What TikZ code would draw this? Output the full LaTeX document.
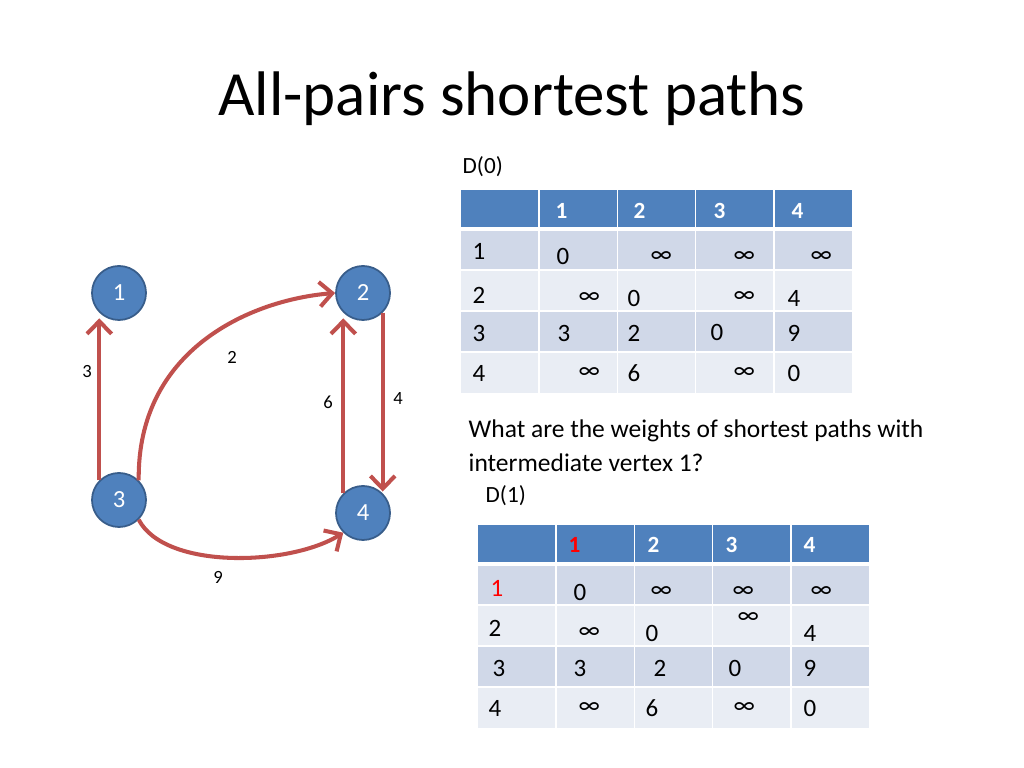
\documentclass[tikz,border=0pt]{standalone}
\usepackage{fontspec}
\setmainfont{Carlito}
\usetikzlibrary{arrows.meta}
\definecolor{vblue}{HTML}{4F81BD}
\definecolor{vborder}{HTML}{385D8A}
\definecolor{ered}{HTML}{C0504D}
\definecolor{hdrblue}{HTML}{4F81BD}
\definecolor{rowdark}{HTML}{D0D8E8}
\definecolor{rowlight}{HTML}{E9EDF4}
\definecolor{hotred}{HTML}{FF0000}
\tikzset{
  vertex/.style={circle, fill=vblue, draw=vborder, line width=0.5pt, minimum size=0.54cm,
    inner sep=0pt, text=white, font=\fontsize{7}{8}\selectfont},
  edge/.style={draw=ered, line width=1.15pt, -{Straight Barb[length=3.6pt,width=7pt]}},
  wlabel/.style={inner sep=0pt, font=\fontsize{5.3}{6}\selectfont},
  cell/.style={anchor=west, inner sep=0pt, font=\fontsize{7.1}{8}\selectfont},
  hcell/.style={cell, text=white, font=\fontsize{6.6}{8}\selectfont\bfseries},
  plain/.style={anchor=base west, inner sep=0pt, font=\fontsize{7.25}{9}\selectfont}
}
% background of one 5x5 table, local coordinates
\newcommand{\dgrid}{
  \fill[hdrblue] (0,0) rectangle (391,39);
  \fill[rowdark] (0,39) rectangle (391,80);
  \fill[rowlight] (0,80) rectangle (391,121);
  \fill[rowdark] (0,121) rectangle (391,162);
  \fill[rowlight] (0,162) rectangle (391,203);
  \draw[white, line width=1.4pt] (0,39) -- (391,39);
  \foreach \y in {80,121,162} \draw[white, line width=0.5pt] (0,\y) -- (391,\y);
  \foreach \x in {78.2,156.4,234.6,312.8} \draw[white, line width=0.5pt] (\x,0) -- (\x,203);
}
\begin{document}
\begin{tikzpicture}[x=0.01cm, y=-0.01cm]
  \useasboundingbox (0,0) rectangle (1024,768);

  % title
  \node[anchor=base, inner sep=0pt, font=\fontsize{17.9}{22}\selectfont] (title) at (512,116) {All-pairs shortest paths};

  % graph
  \node[vertex] (n1) at (119,293) {1};
  \node[vertex] (n2) at (363,293) {2};
  \node[vertex] (n3) at (119,500) {3};
  \node[vertex] (n4) at (363,513) {4};

  \draw[edge, shorten >=1.6pt] (n3.north west) -- (n1.south west);
  \draw[edge] (n3.north east) .. controls (137,350) and (250,300) .. (n2.west);
  \draw[edge, shorten >=1.6pt] (n4.north west) -- (n2.south west);
  \draw[edge, shorten >=0.5pt] (n2.south east) -- (n4.north east);
  \draw[edge] (n3.south east) .. controls (165,570) and (290,566) .. (n4.south west);

  \node[wlabel] (w31) at (87,372) {3};
  \node[wlabel] (w32) at (232,357) {2};
  \node[wlabel] (w42) at (328,402) {6};
  \node[wlabel] (w24) at (398,399) {4};
  \node[wlabel] (w34) at (218,577) {9};

  % D(0)
  \node[anchor=base west, inner sep=0pt, font=\fontsize{6.6}{8}\selectfont] (d0) at (462,174) {D(0)};
  \begin{scope}[shift={(461,190)}]
    \dgrid
    \foreach \x/\t [count=\i] in {94/1,172/2,252/3,330/4}
      \node[hcell] (d0h\i) at (\x,21) {\t};
    \foreach \x/\y/\t [count=\i] in {11/61/1,95/66/0,189/67/∞,272/67/∞,349/67/∞,
        11/105/2,117/108/∞,166/108/0,272/107/∞,326/108/4,
        11/143/3,96/143/3,166/143/2,249/142/0,326/143/9,
        11/183/4,117/183/∞,166/183/6,272/183/∞,326/183/0}
      \node[cell] (d0c\i) at (\x,\y) {\t};
  \end{scope}

  % question
  \node[plain] (q1) at (468,438) {What are the weights of shortest paths with};
  \node[plain] (q2) at (468,472) {intermediate vertex 1?};

  % D(1)
  \node[anchor=base west, inner sep=0pt, font=\fontsize{6.6}{8}\selectfont] (d1) at (485,503) {D(1)};
  \begin{scope}[shift={(478,525)}]
    \dgrid
    \node[hcell, text=hotred] (d1h1) at (90,20) {1};
    \foreach \x/\t [count=\i from 2] in {169/2,247/3,325/4}
      \node[hcell] (d1h\i) at (\x,20) {\t};
    \node[cell, text=hotred] (d1c1) at (12,63) {1};
    \foreach \x/\y/\t [count=\i from 2] in {95/67/0,172/67/∞,254/67/∞,332/67/∞,
        10/103/2,100/108/∞,167/108/0,259/93/∞,325/108/4,
        14/143/3,95/143/3,175/143/2,250/143/0,325/143/9,
        10/183/4,100/183/∞,167/183/6,255/183/∞,325/183/0}
      \node[cell] (d1c\i) at (\x,\y) {\t};
  \end{scope}
\end{tikzpicture}
\end{document}
